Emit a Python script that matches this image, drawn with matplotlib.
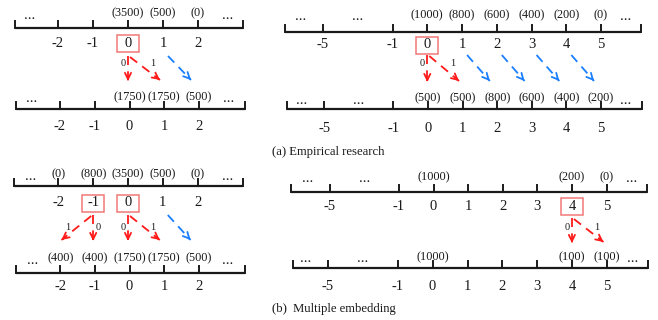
import matplotlib.pyplot as plt
from matplotlib.patches import Rectangle

plt.rcParams['font.family'] = ['Liberation Serif', 'DejaVu Serif']

# Dados ------------------------------------------------------------------
left_ticks  = [-2, -1, 0, 1, 2]
right_ticks = [-5, -1, 0, 1, 2, 3, 4, 5]
right_slots = [-3, -1, 0, 1, 2, 3, 4, 5]   # posição de cada tick na régua
left_dots   = [-2.8, 2.85]
right_dots  = [-3.65, -2.0, 5.72]

# (a) Empirical research
a1_top_bins, a1_top_vals = [0, 1, 2], [3500, 500, 0]
a1_bot_bins, a1_bot_vals = [0, 1, 2], [1750, 1750, 500]
a2_top_bins, a2_top_vals = [0, 1, 2, 3, 4, 5], [1000, 800, 600, 400, 200, 0]
a2_bot_bins, a2_bot_vals = [0, 1, 2, 3, 4, 5], [500, 500, 800, 600, 400, 200]

# (b) Multiple embedding
b1_top_bins, b1_top_vals = [-2, -1, 0, 1, 2], [0, 800, 3500, 500, 0]
b1_bot_bins, b1_bot_vals = [-2, -1, 0, 1, 2], [400, 400, 1750, 1750, 500]
b2_top_bins, b2_top_vals = [0, 4, 5], [1000, 200, 0]
b2_bot_bins, b2_bot_vals = [0, 4, 5], [1000, 100, 100]

# bins escolhidos (caixa vermelha), direção do ramo "1", deslocamentos azuis
a1_sel, a1_shift = [(0, 1)], [1]
a2_sel, a2_shift = [(0, 1)], [1, 2, 3, 4]
b1_sel, b1_shift = [(-1, -1), (0, 1)], [1]
b2_sel, b2_shift = [(4, 1)], []

# Layout (pixels) --------------------------------------------------------
RED  = '#ff1a1a'
BLUE = '#1a7fff'
BOX  = '#f07878'
INK  = '#1a1a1a'

# x0 = posição do slot 0, sp = espaçamento, xa/xb = extremos, y = linha,
# yv = valores, yt = rótulos dos ticks
panels = [
    dict(ticks=left_ticks, slots=left_ticks, dots=left_dots,
         top=dict(x0=128, sp=35.0, xa=15, xb=243, y=27.5, yv=13.5, yt=43.5),
         bot=dict(x0=129.5, sp=34.8, xa=16, xb=245, y=108.5, yv=97, yt=127),
         tb=(a1_top_bins, a1_top_vals), bb=(a1_bot_bins, a1_bot_vals),
         sel=a1_sel, shift=a1_shift, ya=56, yb=81, yl=63),
    dict(ticks=right_ticks, slots=right_slots, dots=right_dots,
         top=dict(x0=427.3, sp=34.75, xa=285, xb=641, y=31.5, yv=15, yt=45),
         bot=dict(x0=428.0, sp=34.6, xa=287, xb=642, y=108.5, yv=98, yt=128),
         tb=(a2_top_bins, a2_top_vals), bb=(a2_bot_bins, a2_bot_vals),
         sel=a2_sel, shift=a2_shift, ya=55, yb=82, yl=63),
    dict(ticks=left_ticks, slots=left_ticks, dots=left_dots,
         top=dict(x0=128, sp=34.8, xa=14, xb=243, y=186, yv=174, yt=203),
         bot=dict(x0=129.5, sp=34.6, xa=16, xb=245, y=273, yv=258, yt=287),
         tb=(b1_top_bins, b1_top_vals), bb=(b1_bot_bins, b1_bot_vals),
         sel=b1_sel, shift=b1_shift, ya=215, yb=241, yl=227),
    dict(ticks=right_ticks, slots=right_slots, dots=right_dots,
         top=dict(x0=433.5, sp=34.6, xa=291, xb=647, y=192, yv=177, yt=206),
         bot=dict(x0=432.6, sp=34.9, xa=293, xb=648, y=268, yv=257, yt=287),
         tb=(b2_top_bins, b2_top_vals), bb=(b2_bot_bins, b2_bot_vals),
         sel=b2_sel, shift=b2_shift, ya=218, yb=243, yl=227),
]

captions = [('(a) Empirical research', 272, 152),
            ('(b)  Multiple embedding', 272, 309)]


def draw_line(ax, g, ticks, slots, dots, bins, vals):
    xs = lambda s: g['x0'] + s * g['sp']
    ax.plot([g['xa'], g['xb']], [g['y'], g['y']], color=INK, lw=1.6,
            solid_capstyle='butt')
    for x in [g['xa'], g['xb']] + [xs(s) for s in slots]:
        ax.plot([x, x], [g['y'], g['y'] - 7], color=INK, lw=1.4)
    for t, s in zip(ticks, slots):
        ax.text(xs(s), g['yt'], str(t), ha='center', va='center',
                fontsize=10.5, color=INK)
    for b, v in zip(bins, vals):
        ax.text(xs(b), g['yv'], f'({v})', ha='center', va='center',
                fontsize=8.8, color=INK)
    for d in dots:
        ax.text(xs(d), g['yv'] + 5.5, '...', ha='center', va='baseline',
                fontsize=11, color=INK)


def dashed_arrow(ax, p0, p1, color):
    # corpo tracejado + ponta aberta sólida
    ax.plot([p0[0], p1[0]], [p0[1], p1[1]], color=color, lw=1.3,
            linestyle=(0, (5, 3.5)))
    dx, dy = p1[0] - p0[0], p1[1] - p0[1]
    n = (dx ** 2 + dy ** 2) ** 0.5
    pm = (p1[0] - 3 * dx / n, p1[1] - 3 * dy / n)
    ax.annotate('', xy=p1, xytext=pm,
                arrowprops=dict(arrowstyle='->', color=color, lw=1.3,
                                shrinkA=0, shrinkB=0, mutation_scale=11))


fig = plt.figure(figsize=(6.58, 3.2), dpi=100)
ax = fig.add_axes([0, 0, 1, 1])
ax.set_xlim(0, 658)
ax.set_ylim(320, 0)
ax.axis('off')

for p in panels:
    draw_line(ax, p['top'], p['ticks'], p['slots'], p['dots'], *p['tb'])
    draw_line(ax, p['bot'], p['ticks'], p['slots'], p['dots'], *p['bb'])

    top = p['top']
    xt = lambda s: top['x0'] + s * top['sp']
    ya, yb, yl = p['ya'], p['yb'], p['yl']

    for s, d in p['sel']:
        ax.add_patch(Rectangle((xt(s) - 11, top['yt'] - 8.5), 22, 17,
                               fill=False, edgecolor=BOX, lw=1.1))
        # ramo "0" (vertical) e ramo "1" (diagonal)
        dashed_arrow(ax, (xt(s), ya), (xt(s), yb), RED)
        dashed_arrow(ax, (xt(s) + 2 * d, ya + 1), (xt(s + d) - 3 * d, yb - 1), RED)
        ax.text(xt(s) - 5 * d, yl, '0', ha='center', va='center',
                fontsize=7.5, color=INK)
        ax.text(xt(s) + 25 * d, yl, '1', ha='center', va='center',
                fontsize=7.5, color=INK)

    for k in p['shift']:
        dashed_arrow(ax, (xt(k) + 5, ya), (xt(k + 1) - 7, yb - 1), BLUE)

for txt, x, y in captions:
    ax.text(x, y, txt, ha='left', va='center', fontsize=9.1, color=INK)

fig.savefig('out.png', dpi=100)
